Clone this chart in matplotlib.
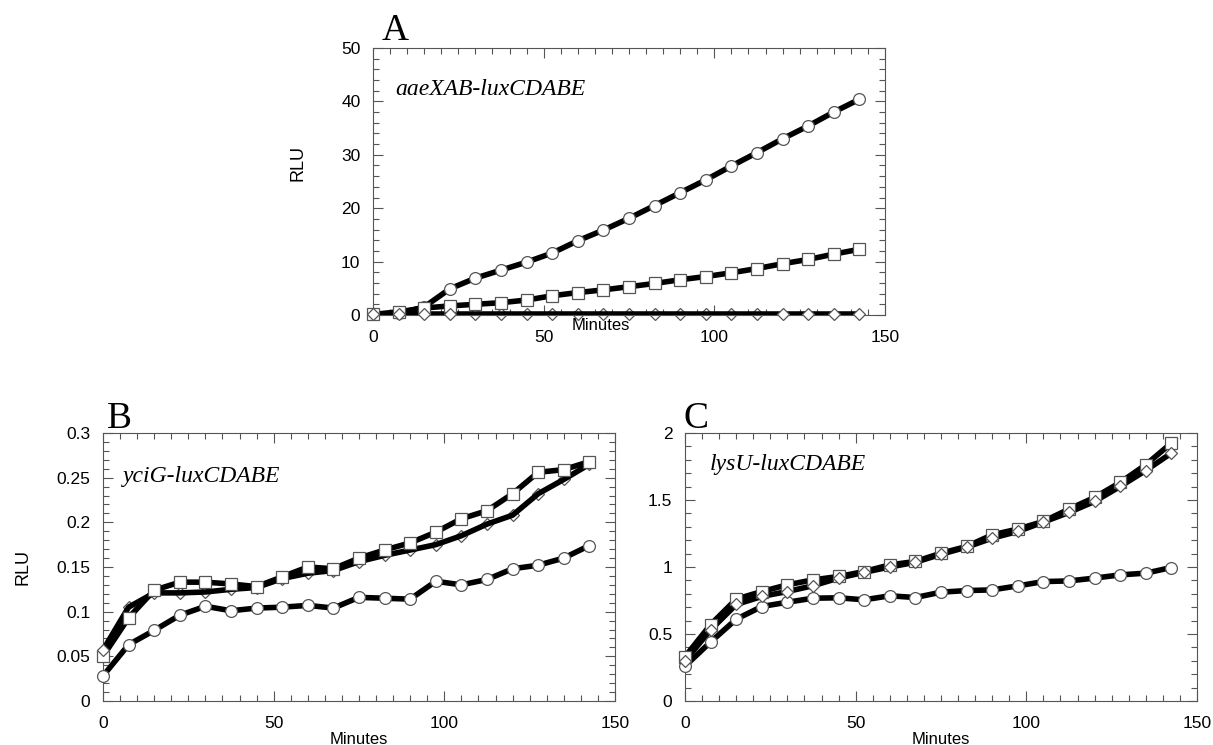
import matplotlib
matplotlib.use('Agg')
import matplotlib.pyplot as plt
from matplotlib import ticker

# sampling times (minutes)
minutes = [0, 7.5, 15, 22.5, 30, 37.5, 45, 52.5, 60, 67.5,
           75, 82.5, 90, 97.5, 105, 112.5, 120, 127.5, 135, 142.5]

# panel A: aaeXAB-luxCDABE
a_circle = [0.1, 0.3, 1.5, 4.9, 6.9, 8.4, 9.9, 11.6, 13.9, 15.9,
            18.1, 20.5, 22.9, 25.3, 27.9, 30.4, 33.0, 35.4, 38.0, 40.4]
a_square = [0.1, 0.6, 1.3, 1.7, 2.0, 2.3, 2.8, 3.6, 4.2, 4.7,
            5.3, 5.9, 6.6, 7.2, 7.9, 8.7, 9.6, 10.4, 11.4, 12.3]
a_diamond = [0.1, 0.1, 0.1, 0.1, 0.1, 0.1, 0.1, 0.1, 0.1, 0.1,
             0.1, 0.1, 0.1, 0.1, 0.1, 0.1, 0.1, 0.1, 0.1, 0.1]

# panel B: yciG-luxCDABE
b_circle = [0.028, 0.063, 0.079, 0.096, 0.106, 0.101, 0.104, 0.105, 0.107, 0.104,
            0.116, 0.115, 0.114, 0.134, 0.130, 0.136, 0.148, 0.152, 0.160, 0.174]
b_square = [0.050, 0.093, 0.124, 0.133, 0.133, 0.131, 0.128, 0.139, 0.150, 0.148,
            0.160, 0.169, 0.177, 0.189, 0.204, 0.213, 0.232, 0.256, 0.259, 0.268]
b_diamond = [0.057, 0.105, 0.121, 0.121, 0.122, 0.125, 0.127, 0.137, 0.143, 0.146,
             0.156, 0.163, 0.169, 0.175, 0.185, 0.198, 0.208, 0.232, 0.248, 0.265]

# panel C: lysU-luxCDABE
c_circle = [0.26, 0.44, 0.61, 0.705, 0.737, 0.767, 0.77, 0.755, 0.785, 0.772,
            0.812, 0.824, 0.829, 0.859, 0.891, 0.896, 0.917, 0.941, 0.954, 0.996]
c_square = [0.33, 0.57, 0.76, 0.817, 0.867, 0.904, 0.929, 0.966, 1.016, 1.041,
            1.103, 1.153, 1.24, 1.283, 1.34, 1.432, 1.519, 1.631, 1.763, 1.925]
c_diamond = [0.30, 0.53, 0.72, 0.78, 0.817, 0.86, 0.917, 0.96, 1.0, 1.035,
             1.095, 1.148, 1.215, 1.265, 1.335, 1.407, 1.489, 1.601, 1.72, 1.85]

SANS = 'Liberation Sans'
SERIF = 'Liberation Serif'
EDGE = '#555555'

fig = plt.figure(figsize=(12.13, 7.45), dpi=100)
axA = fig.add_axes([0.3075, 0.5772, 0.4221, 0.3584])
axB = fig.add_axes([0.0849, 0.0591, 0.4221, 0.3597])
axC = fig.add_axes([0.5647, 0.0591, 0.4221, 0.3597])


def series(ax, y, marker, ms, under=None):
    line_kw = dict(color='black', lw=4, solid_capstyle='butt')
    mk_kw = dict(marker=marker, ms=ms, mfc='white', mec=EDGE, mew=0.9,
                 ls='none', clip_on=False)
    if under is None:
        ax.plot(minutes, y, zorder=3, **line_kw)
        ax.plot(minutes, y, zorder=4, **mk_kw)
    else:
        # some markers sit below the line, the rest on top
        top = [i for i in range(len(minutes)) if i not in under]
        ax.plot(minutes, y, zorder=2.5, markevery=under, **mk_kw)
        ax.plot(minutes, y, zorder=3, **line_kw)
        if top:
            ax.plot(minutes, y, zorder=4, markevery=top, **mk_kw)


def style(ax, ymax, ymaj, ymin, yfmt):
    ax.set_xlim(0, 150)
    ax.set_ylim(0, ymax)
    ax.xaxis.set_major_locator(ticker.MultipleLocator(50))
    ax.xaxis.set_minor_locator(ticker.MultipleLocator(5))
    ax.yaxis.set_major_locator(ticker.MultipleLocator(ymaj))
    ax.yaxis.set_minor_locator(ticker.MultipleLocator(ymin))
    ax.yaxis.set_major_formatter(ticker.FuncFormatter(yfmt))
    ax.tick_params(which='both', direction='in', top=True, right=True,
                   color=EDGE, width=0.8)
    ax.tick_params(which='major', length=7, labelsize=12.5, pad=11)
    ax.tick_params(which='minor', length=4)
    ax.tick_params(axis='y', which='major', pad=9)
    for lab in ax.get_xticklabels() + ax.get_yticklabels():
        lab.set_fontfamily(SANS)
    for sp in ax.spines.values():
        sp.set_color(EDGE)
        sp.set_linewidth(0.8)


def fmt_int(v, pos):
    return '%d' % round(v)


def fmt_g(v, pos):
    return '%g' % round(v, 3)


# panel A
series(axA, a_circle, 'o', 8.5)
series(axA, a_square, 's', 8)
series(axA, a_diamond, 'D', 6, under=list(range(4, 16)))
style(axA, 50, 10, 2, fmt_int)
axA.set_ylabel('RLU', fontfamily=SANS, fontsize=13)
axA.yaxis.set_label_coords(-0.13, 0.57)
axA.text(0.445, -0.04, 'Minutes', transform=axA.transAxes, ha='center',
         va='center', fontfamily=SANS, fontsize=12)
axA.text(0.043, 0.824, 'aaeXAB-luxCDABE', transform=axA.transAxes,
         fontfamily=SERIF, style='italic', fontsize=17)
axA.text(0.017, 1.03, 'A', transform=axA.transAxes, fontfamily=SERIF,
         fontsize=27)

# panel B
series(axB, b_circle, 'o', 8.5)
series(axB, b_square, 's', 8)
series(axB, b_diamond, 'D', 6, under=list(range(1, 20)))
style(axB, 0.3, 0.05, 0.01, fmt_g)
axB.set_ylabel('RLU', fontfamily=SANS, fontsize=13)
axB.yaxis.set_label_coords(-0.14, 0.5)
axB.text(0.5, -0.142, 'Minutes', transform=axB.transAxes, ha='center',
         va='center', fontfamily=SANS, fontsize=12)
axB.text(0.039, 0.817, 'yciG-luxCDABE', transform=axB.transAxes,
         fontfamily=SERIF, style='italic', fontsize=17)
axB.text(0.008, 1.02, 'B', transform=axB.transAxes, fontfamily=SERIF,
         fontsize=27)

# panel C
series(axC, c_circle, 'o', 8.5)
series(axC, c_square, 's', 8)
series(axC, c_diamond, 'D', 6)
style(axC, 2, 0.5, 0.1, fmt_g)
axC.text(0.5, -0.142, 'Minutes', transform=axC.transAxes, ha='center',
         va='center', fontfamily=SANS, fontsize=12)
axC.text(0.049, 0.862, 'lysU-luxCDABE', transform=axC.transAxes,
         fontfamily=SERIF, style='italic', fontsize=17)
axC.text(-0.002, 1.02, 'C', transform=axC.transAxes, fontfamily=SERIF,
         fontsize=27)

fig.savefig('out.png', dpi=100)
